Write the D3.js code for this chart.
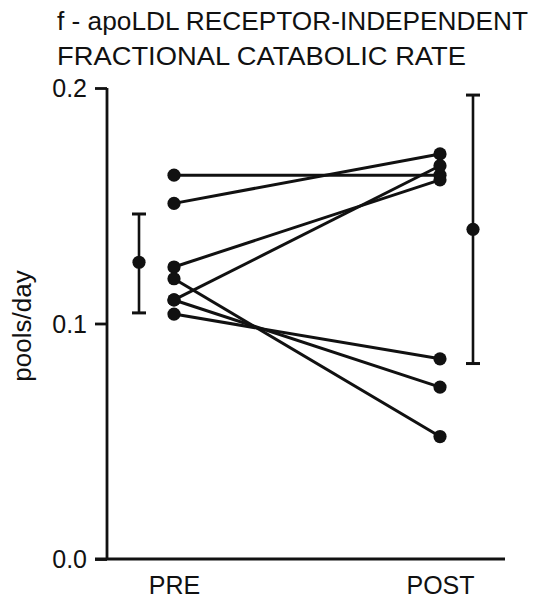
<!DOCTYPE html>
<html>
<head>
<meta charset="utf-8">
<script src="https://cdn.jsdelivr.net/npm/d3@7"></script>
<style>
  body { margin: 0; background: #fff; }
  text { font-family: "Liberation Sans", Arial, Helvetica, sans-serif; fill: #111; }
</style>
</head>
<body>
<script>
// values (pools/day)
const groups = ["PRE", "POST"]
const preValues  = [0.163, 0.151, 0.124, 0.119, 0.110, 0.110, 0.104]
const postValues = [0.163, 0.172, 0.161, 0.052, 0.167, 0.073, 0.085]

// mean +/- bars next to each group
const meanValues = [0.126, 0.140]
const meanLow    = [0.1045, 0.083]
const meanHigh   = [0.1465, 0.197]

const yTicks = [0, 0.1, 0.2]
const titleLines = ["f - apoLDL RECEPTOR-INDEPENDENT", "FRACTIONAL CATABOLIC RATE"]

let svg = d3.select('body')
    .append('svg')
    .attr('width', 538)
    .attr('height', 605)

let Xscale = d3.scaleLinear()
    .domain([0, 1])
    .range([174, 440])

let Yscale = d3.scaleLinear()
    .domain([0, 0.2])
    .range([559, 88])

let meanOffset = [-35, 33]

// title
svg.append("g")
    .selectAll("text")
    .data(titleLines)
    .enter()
    .append("text")
    .attr("x", 57)
    .attr("y", (d, i) => 30 + i * 35)
    .style("font-size", "26px")
    .attr("textLength", (d, i) => i == 0 ? 471 : 409)
    .attr("lengthAdjust", "spacingAndGlyphs")
    .text(d => d)

// y axis
let y_Axis = d3.axisLeft(Yscale)
    .tickValues(yTicks)
    .tickSize(12)
    .tickPadding(8)
    .tickFormat(d3.format(".1f"))

let yAxisGroup = svg.append("g")
    .attr("transform", "translate(107,0)")
    .call(y_Axis)

yAxisGroup.select(".domain").remove()
yAxisGroup.append("line")
    .attr("x1", 0).attr("x2", 0)
    .attr("y1", Yscale(0.2)).attr("y2", Yscale(0))
    .attr("stroke", "#111")
    .attr("stroke-width", 2.8)
yAxisGroup.selectAll(".tick line").attr("stroke", "#111").attr("stroke-width", 2.8)
yAxisGroup.selectAll(".tick text")
    .style("font-size", "25px")
    .attr("dy", "0.35em")

// x axis line + group labels
svg.append("line")
    .attr("x1", 95).attr("x2", 505)
    .attr("y1", Yscale(0)).attr("y2", Yscale(0))
    .attr("stroke", "#111")
    .attr("stroke-width", 3.2)

let x_Axis = d3.axisBottom(Xscale)
    .tickValues([0, 1])
    .tickSize(0)
    .tickPadding(12)
    .tickFormat(d => groups[d])

let xAxisGroup = svg.append("g")
    .attr("transform", "translate(0," + Yscale(0) + ")")
    .call(x_Axis)
xAxisGroup.select(".domain").remove()
xAxisGroup.selectAll(".tick text")
    .style("font-size", "25px")
    .attr("dy", "0.9em")

// y label
svg.append("text")
    .attr("transform", "translate(31,326) rotate(-90)")
    .attr("text-anchor", "middle")
    .style("font-size", "26px")
    .text("pools/day")

// paired lines PRE -> POST
let pairs = preValues.map((d, i) => ({ pre: d, post: postValues[i] }))

svg.selectAll(".pair")
    .data(pairs)
    .enter()
    .append("line")
    .attr("class", "pair")
    .attr("x1", Xscale(0))
    .attr("x2", Xscale(1))
    .attr("y1", d => Yscale(d.pre))
    .attr("y2", d => Yscale(d.post))
    .attr("stroke", "#111")
    .attr("stroke-width", 3)

svg.selectAll(".preDot")
    .data(preValues)
    .enter()
    .append("circle")
    .attr("r", 6.6)
    .attr("cx", Xscale(0))
    .attr("cy", d => Yscale(d))
    .style("fill", "#111")

svg.selectAll(".postDot")
    .data(postValues)
    .enter()
    .append("circle")
    .attr("r", 6.6)
    .attr("cx", Xscale(1))
    .attr("cy", d => Yscale(d))
    .style("fill", "#111")

// mean and error bars
let means = meanValues.map((d, i) => ({ x: Xscale(i) + meanOffset[i], mean: d, lo: meanLow[i], hi: meanHigh[i] }))

let bars = svg.selectAll(".meanBar")
    .data(means)
    .enter()
    .append("g")
    .attr("class", "meanBar")

bars.append("line")
    .attr("x1", d => d.x).attr("x2", d => d.x)
    .attr("y1", d => Yscale(d.lo)).attr("y2", d => Yscale(d.hi))
    .attr("stroke", "#111")
    .attr("stroke-width", 2.6)

bars.selectAll(".cap")
    .data(d => [{ x: d.x, v: d.lo }, { x: d.x, v: d.hi }])
    .enter()
    .append("line")
    .attr("x1", d => d.x - 7).attr("x2", d => d.x + 7)
    .attr("y1", d => Yscale(d.v)).attr("y2", d => Yscale(d.v))
    .attr("stroke", "#111")
    .attr("stroke-width", 3)

bars.append("circle")
    .attr("cx", d => d.x)
    .attr("cy", d => Yscale(d.mean))
    .attr("r", 6.6)
    .style("fill", "#111")
</script>
</body>
</html>
